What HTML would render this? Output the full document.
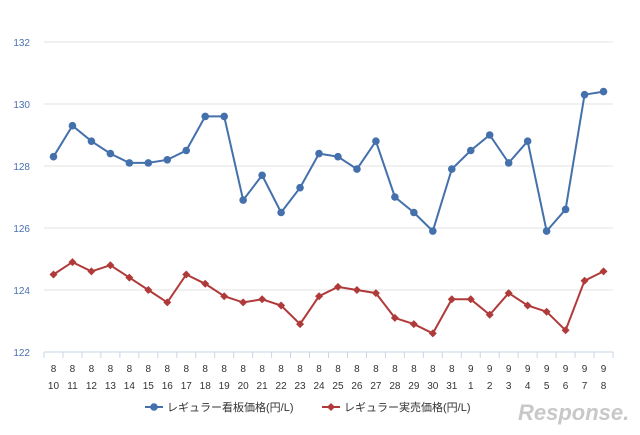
<!DOCTYPE html>
<html><head><meta charset="utf-8"><style>
body{margin:0;background:#fff;font-family:"Liberation Sans","Noto Sans CJK JP",sans-serif}
svg text{font-family:"Liberation Sans","Noto Sans CJK JP",sans-serif}
</style></head><body>
<svg id="c" width="640" height="430"></svg>
<script>
const categories=[["8","10"],["8","11"],["8","12"],["8","13"],["8","14"],["8","15"],["8","16"],["8","17"],["8","18"],["8","19"],["8","20"],["8","21"],["8","22"],["8","23"],["8","24"],["8","25"],["8","26"],["8","27"],["8","28"],["8","29"],["8","30"],["8","31"],["9","1"],["9","2"],["9","3"],["9","4"],["9","5"],["9","6"],["9","7"],["9","8"]];
const signPrice=[128.3,129.3,128.8,128.4,128.1,128.1,128.2,128.5,129.6,129.6,126.9,127.7,126.5,127.3,128.4,128.3,127.9,128.8,127.0,126.5,125.9,127.9,128.5,129.0,128.1,128.8,125.9,126.6,130.3,130.4];
const actualPrice=[124.5,124.9,124.6,124.8,124.4,124.0,123.6,124.5,124.2,123.8,123.6,123.7,123.5,122.9,123.8,124.1,124.0,123.9,123.1,122.9,122.6,123.7,123.7,123.2,123.9,123.5,123.3,122.7,124.3,124.6];
const yTicks=[122,124,126,128,130,132];
const NS="http://www.w3.org/2000/svg",svg=document.getElementById('c');
const x0=44,x1=613,band=(x1-x0)/categories.length;
const X=i=>x0+(i+0.5)*band, Y=v=>352-(v-122)*31;
function mk(t,a,p){const e=document.createElementNS(NS,t);for(const k in a)e.setAttribute(k,a[k]);(p||svg).appendChild(e);return e;}
yTicks.forEach(v=>{
 const g=mk('line',{x1:x0,x2:x1,y1:Y(v),y2:Y(v),stroke:v==122?'#c9d6e6':'#e3e3e3','stroke-width':1});
 
 
 const t=mk('text',{x:30,y:Y(v)+4,'text-anchor':'end','font-size':10,fill:'#4a72b0'});t.textContent=v;
 
 
});
for(let i=0;i<=categories.length;i++){const l=mk('line',{x1:x0+i*band,x2:x0+i*band,y1:352,y2:358,stroke:'#c9d6e6'});
 
 }
categories.forEach((c,i)=>{
 const t=mk('text',{x:X(i),y:372,'text-anchor':'middle','font-size':10,fill:'#333'});t.textContent=c[0];
 
 
 const t2=mk('text',{x:X(i),y:389,'text-anchor':'middle','font-size':10,fill:'#333'});t2.textContent=c[1];
 
 
});
function series(vals,color,name,diamond){
 const p=mk('polyline',{points:vals.map((v,i)=>X(i)+','+Y(v)).join(' '),fill:'none',stroke:color,'stroke-width':2});
 
 
 vals.forEach((v,i)=>{
  let m;
  if(diamond){const x=X(i),y=Y(v);m=mk('polygon',{points:`${x},${y-4} ${x+4},${y} ${x},${y+4} ${x-4},${y}`,fill:color});}
  else m=mk('circle',{cx:X(i),cy:Y(v),r:3.8,fill:color});
  
  
 });
}
series(signPrice,'#4470ac','sign-price',false);
series(actualPrice,'#b03a3a','actual-price',true);
// legend
const lg=mk('g',{});


mk('line',{x1:145,x2:163,y1:407,y2:407,stroke:'#4470ac','stroke-width':2},lg);
mk('circle',{cx:154,cy:407,r:3.8,fill:'#4470ac'},lg);
let t=mk('text',{x:167,y:411,'font-size':11,fill:'#333'},lg);t.textContent='レギュラー看板価格(円/L)';


mk('line',{x1:322,x2:340,y1:407,y2:407,stroke:'#b03a3a','stroke-width':2},lg);
mk('polygon',{points:'331,403 335,407 331,411 327,407',fill:'#b03a3a'},lg);
t=mk('text',{x:344,y:411,'font-size':11,fill:'#333'},lg);t.textContent='レギュラー実売価格(円/L)';


t=mk('text',{x:518,y:420,'font-size':22,fill:'#c8c8c8','font-style':'italic','font-weight':'bold'});t.textContent='Response.';


</script>
</body></html>
